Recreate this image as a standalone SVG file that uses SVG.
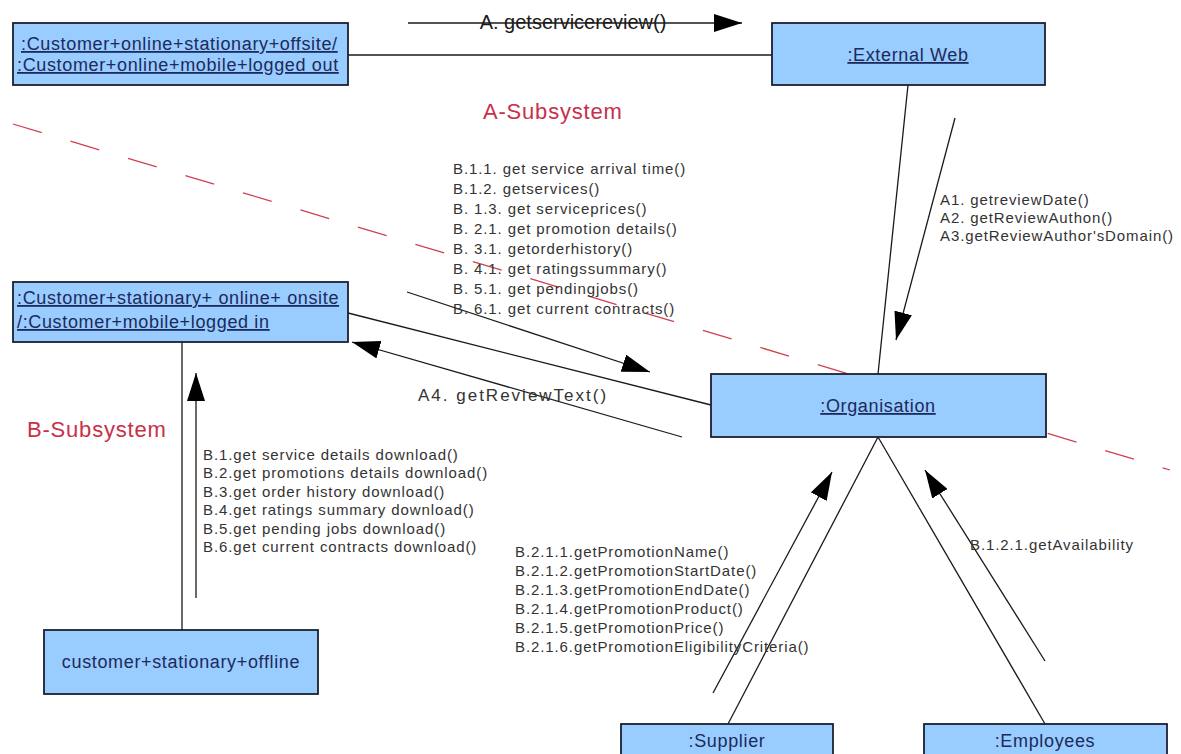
<svg xmlns="http://www.w3.org/2000/svg" width="1181" height="754" viewBox="0 0 1181 754">
<style>
.box{fill:#99ccff;stroke:#1c2030;stroke-width:1.8}
.bt{font-family:"Liberation Sans",Arial,sans-serif;font-size:18px;letter-spacing:0.65px;fill:#1c2a5c}
.u{text-decoration:underline}
.lbl{font-family:"Liberation Sans",Arial,sans-serif;font-size:15px;letter-spacing:0.9px;fill:#333333}
.red{font-family:"Liberation Sans",Arial,sans-serif;font-size:22px;letter-spacing:0.8px;fill:#c8304a}
.ln{stroke:#1a1a1a;stroke-width:1.3;fill:none}
.dash{stroke:#d04050;stroke-width:1.3;stroke-dasharray:30 30;fill:none}
</style>
<defs>
<marker id="ah" markerUnits="userSpaceOnUse" markerWidth="28" markerHeight="18" refX="28" refY="9" orient="auto">
<path d="M0,0 L28,9 L0,18 z" fill="#000"/>
</marker>
</defs>
<rect width="1181" height="754" fill="#ffffff"/>
<line class="dash" x1="13" y1="124" x2="1170" y2="470"/>
<g id="connectors">
<line class="ln" x1="348" y1="55" x2="772" y2="55"/>
<line class="ln" x1="408" y1="23" x2="742" y2="23" marker-end="url(#ah)"/>
<line class="ln" x1="908" y1="85" x2="878" y2="374"/>
<line class="ln" x1="955" y1="118" x2="896" y2="340" marker-end="url(#ah)"/>
<line class="ln" x1="348" y1="313" x2="711" y2="405"/>
<line class="ln" x1="407" y1="292" x2="650" y2="372" marker-end="url(#ah)"/>
<line class="ln" x1="682" y1="437" x2="352" y2="342" marker-end="url(#ah)"/>
<line class="ln" x1="182" y1="342" x2="182" y2="630"/>
<line class="ln" x1="196" y1="598" x2="196" y2="373" marker-end="url(#ah)"/>
<line class="ln" x1="878" y1="437" x2="728" y2="724"/>
<line class="ln" x1="878" y1="437" x2="1045" y2="724"/>
<line class="ln" x1="713" y1="693" x2="832" y2="472" marker-end="url(#ah)"/>
<line class="ln" x1="1045" y1="661" x2="925" y2="470" marker-end="url(#ah)"/>
</g>
<g id="labels">
<text x="573" y="29" text-anchor="middle" style="font-family:'Liberation Sans',Arial,sans-serif;font-size:20px;fill:#1a1a1a">A. getservicereview()</text>
<text class="red" x="483" y="119">A-Subsystem</text>
<text class="red" x="27" y="437">B-Subsystem</text>
<text class="lbl" x="940" y="205">A1. getreviewDate()</text>
<text class="lbl" x="940" y="223">A2. getReviewAuthon()</text>
<text class="lbl" x="940" y="241">A3.getReviewAuthor'sDomain()</text>
<text class="lbl" x="453" y="174">B.1.1. get service arrival time()</text>
<text class="lbl" x="453" y="194">B.1.2. getservices()</text>
<text class="lbl" x="453" y="214">B. 1.3. get serviceprices()</text>
<text class="lbl" x="453" y="234">B. 2.1. get promotion details()</text>
<text class="lbl" x="453" y="254">B. 3.1. getorderhistory()</text>
<text class="lbl" x="453" y="274">B. 4.1. get ratingssummary()</text>
<text class="lbl" x="453" y="294">B. 5.1. get pendingjobs()</text>
<text class="lbl" x="453" y="314">B. 6.1. get current contracts()</text>
<text class="lbl" x="418" y="401" style="font-size:17px;letter-spacing:2px">A4. getReviewText()</text>
<text class="lbl" x="203" y="460">B.1.get service details download()</text>
<text class="lbl" x="203" y="478">B.2.get promotions details download()</text>
<text class="lbl" x="203" y="497">B.3.get order history download()</text>
<text class="lbl" x="203" y="515">B.4.get ratings summary download()</text>
<text class="lbl" x="203" y="534">B.5.get pending jobs download()</text>
<text class="lbl" x="203" y="552">B.6.get current contracts download()</text>
<text class="lbl" x="515" y="557">B.2.1.1.getPromotionName()</text>
<text class="lbl" x="515" y="576">B.2.1.2.getPromotionStartDate()</text>
<text class="lbl" x="515" y="595">B.2.1.3.getPromotionEndDate()</text>
<text class="lbl" x="515" y="614">B.2.1.4.getPromotionProduct()</text>
<text class="lbl" x="515" y="633">B.2.1.5.getPromotionPrice()</text>
<text class="lbl" x="515" y="652">B.2.1.6.getPromotionEligibilityCriteria()</text>
<text class="lbl" x="970" y="550">B.1.2.1.getAvailability</text>
</g>
<g id="n-customer-offsite">
<rect class="box" x="13" y="23" width="335" height="62"/>
<text class="bt u" x="21" y="50">:Customer+online+stationary+offsite/</text>
<text class="bt u" x="17" y="71">:Customer+online+mobile+logged out</text>
</g>
<g id="n-external-web">
<rect class="box" x="772" y="23" width="273" height="62"/>
<text class="bt u" x="908" y="61" text-anchor="middle">:External Web</text>
</g>
<g id="n-customer-onsite">
<rect class="box" x="13" y="282" width="335" height="60"/>
<text class="bt u" x="17" y="304">:Customer+stationary+ online+ onsite</text>
<text class="bt u" x="17" y="328">/:Customer+mobile+logged in</text>
</g>
<g id="n-organisation">
<rect class="box" x="711" y="374" width="335" height="63"/>
<text class="bt u" x="878" y="412" text-anchor="middle">:Organisation</text>
</g>
<g id="n-offline">
<rect class="box" x="44" y="630" width="274" height="64"/>
<text class="bt" x="181" y="668" text-anchor="middle">customer+stationary+offline</text>
</g>
<g id="n-supplier">
<rect class="box" x="621" y="724" width="212" height="40"/>
<text class="bt" x="727" y="747" text-anchor="middle">:Supplier</text>
</g>
<g id="n-employees">
<rect class="box" x="924" y="724" width="243" height="40"/>
<text class="bt" x="1045" y="747" text-anchor="middle">:Employees</text>
</g>
</svg>
